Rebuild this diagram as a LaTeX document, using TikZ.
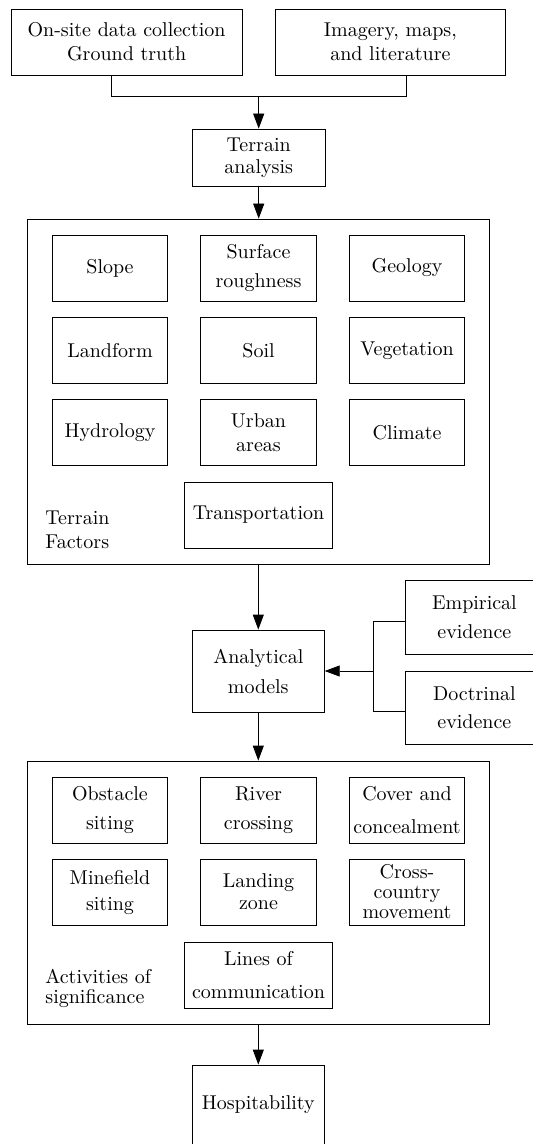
\documentclass[tikz,border=0pt]{standalone}
\usepackage{amssymb}
\usepackage{amsmath}
\usepackage{xcolor}
\usepackage{tikz}
\usetikzlibrary{arrows.meta}

\tikzset{
    blk/.style={draw, align=center, inner sep=0pt},
    cell/.style={blk, minimum width=57.75pt, minimum height=33pt},
    widecell/.style={blk, minimum width=74.2pt, minimum height=33pt},
    frame/.style={draw, inner sep=0pt, minimum width=230.75pt},
    arr/.style={-{Triangle[length=7.5pt,width=5.5pt]}}
}

\begin{document}
\begin{tikzpicture}[x=0.5pt,y=-0.5pt]
            \useasboundingbox (0,0) rectangle (532,1144);

            \node[blk, minimum width=115.4pt, minimum height=33pt] (ground) at (126.6,42) {On-site data collection\\Ground truth};
            \node[blk, minimum width=115.4pt, minimum height=33pt] (imagery) at (390.4,42) {Imagery, maps,\\and literature};
            \node[blk, minimum width=66.25pt, minimum height=28.5pt] (terrain) at (258.7,157.5) {Terrain\\[-1pt]analysis};

            \node[frame, minimum height=172.5pt] (factors) at (258.2,391.5) {};
            \node[cell] (slope) at (110,268) {Slope};
            \node[cell] (rough) at (258.5,268) {Surface\\[2.5pt]roughness};
            \node[cell] (geology) at (407,268) {Geology};
            \node[cell] (landform) at (110,350.3) {Landform};
            \node[cell] (soil) at (258.5,350.3) {Soil};
            \node[cell] (vegetation) at (407,350.3) {Vegetation};
            \node[cell] (hydrology) at (110,432.5) {Hydrology};
            \node[cell] (urban) at (258.5,432.5) {Urban\\areas};
            \node[cell] (climate) at (407,432.5) {Climate};
            \node[widecell] (transport) at (258.5,515) {Transportation};
            \node[align=left, inner sep=0pt, anchor=north west] (factorslabel) at (45,510.3) {Terrain\\Factors};

            \node[blk, minimum width=66pt, minimum height=41pt] (analytical) at (258.3,671) {Analytical\\[3pt]models};
            \node[blk, minimum width=68.65pt, minimum height=36.65pt] (empirical) at (474.4,617.4) {Empirical\\[2.5pt]evidence};
            \node[blk, minimum width=68.65pt, minimum height=36.65pt] (doctrinal) at (474.4,707.8) {Doctrinal\\[2pt]evidence};

            \node[frame, minimum height=131.5pt] (activities) at (258.2,892.5) {};
            \node[cell] (obstacle) at (110,810) {Obstacle\\[2.5pt]siting};
            \node[cell] (river) at (258.5,810) {River\\[2.5pt]crossing};
            \node[cell] (cover) at (407,810) {Cover and\\[4.5pt]concealment};
            \node[cell] (minefield) at (110,892) {Minefield\\[1pt]siting};
            \node[cell] (landing) at (258.5,892) {Landing\\[-1pt]zone};
            \node[cell] (crosscountry) at (407,892) {Cross-\\[-2pt]country\\[-2pt]movement};
            \node[widecell] (loc) at (258.5,975) {Lines of\\[4.5pt]communication};
            \node[align=left, inner sep=0pt, anchor=north west] (activitieslabel) at (45,968.5) {Activities of\\[-2pt]significance};

            \node[blk, minimum width=66pt, minimum height=40pt] (hosp) at (258.3,1105) {Hospitability};

            \coordinate (mg) at (111,96);
            \coordinate (mi) at (406,96);
            \draw (mg |- ground.south) -- (mg) -- (mi) -- (mi |- imagery.south);
            \draw[arr] (terrain.north |- mg) -- (terrain.north);
            \draw[arr] (terrain.south) -- (factors.north -| terrain.south);
            \draw[arr] (factors.south -| analytical.north) -- (analytical.north);

            \coordinate (jt) at (373.3,621.7);
            \coordinate (jb) at (373.3,711.7);
            \draw (empirical.west |- jt) -- (jt) -- (jb) -- (doctrinal.west |- jb);
            \draw[arr] (jt |- analytical.east) -- (analytical.east);

            \draw[arr] (analytical.south) -- (activities.north -| analytical.south);
            \draw[arr] (activities.south -| hosp.north) -- (hosp.north);
        \end{tikzpicture}
\end{document}
